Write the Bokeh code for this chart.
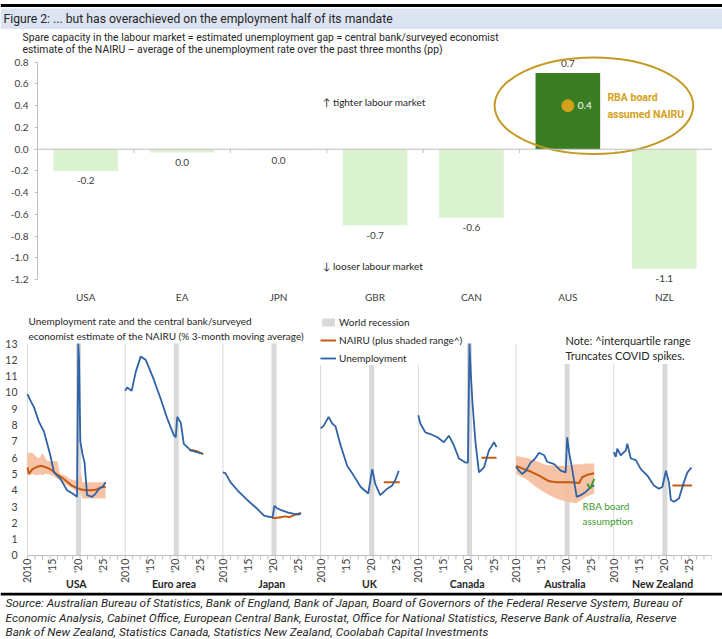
import math

from bokeh.core.properties import value
from bokeh.embed import file_html
from bokeh.layouts import column, row
from bokeh.models import (BoxAnnotation, FixedTicker, Label, Legend, LegendItem,
                          NumeralTickFormatter, Range1d, Span)
from bokeh.plotting import figure
from bokeh.resources import INLINE

NARROW = "Roboto"
BODY = "Lato"
W = 722

# ---- top chart: unemployment gap (pp) ----
gap_countries = ["USA", "EA", "JPN", "GBR", "CAN", "AUS", "NZL"]
gap_values = [-0.2, -0.03, -0.01, -0.7, -0.63, 0.7, -1.1]
rba_gap = 0.4  # AUS gap using the RBA board's assumed NAIRU

# ---- bottom chart: unemployment rate and NAIRU (%) ----
panel_names = ["USA", "Euro area", "Japan", "UK", "Canada", "Australia", "New Zealand"]
year_ticks = [2010, 2015, 2020, 2025]
year_labels = ["2010", "'15", "'20", "'25"]
recession = [2019.7, 2020.7]

usa_u_year = [2010.0, 2010.6, 2011.3, 2012.3, 2013.3, 2014.6, 2015.3, 2016.6, 2017.9, 2019.0,
              2019.9, 2020.15, 2020.3, 2020.55, 2021.0, 2021.4, 2021.9, 2022.9, 2023.6, 2024.3,
              2025.0, 2025.6]
usa_u = [9.9, 9.5, 9.1, 8.2, 7.6, 6.1, 5.1, 4.7, 4.0, 3.8, 3.6, 13.0, 12.0, 7.0, 6.2, 5.7, 3.7,
         3.6, 3.8, 4.1, 4.2, 4.5]
usa_n_year = [2010.0, 2010.3, 2011.0, 2012.0, 2012.8, 2013.8, 2014.8, 2015.8, 2016.8, 2017.8,
              2018.8, 2019.8, 2020.8, 2021.8, 2022.8, 2023.8, 2024.8, 2025.6]
usa_n = [5.4, 5.0, 5.3, 5.45, 5.5, 5.4, 5.25, 5.0, 4.8, 4.55, 4.3, 4.15, 4.05, 4.0, 4.0, 4.05,
         4.2, 4.2]
usa_band_year = [2010.0, 2011.0, 2012.0, 2012.5, 2013.0, 2013.5, 2014.0, 2015.0, 2016.0, 2016.5,
                 2017.5, 2018.5, 2019.5, 2020.2, 2020.6, 2021.0, 2022.0, 2023.0, 2024.0, 2025.6]
usa_hi = [6.3, 6.3, 6.0, 6.0, 6.3, 6.0, 5.8, 5.8, 5.8, 5.0, 4.9, 4.7, 4.6, 4.6, 5.2, 4.5, 4.5,
          4.5, 4.5, 4.5]
usa_lo = [4.9, 5.0, 4.9, 5.0, 4.9, 5.0, 5.0, 4.9, 4.7, 4.6, 4.4, 4.2, 4.0, 3.9, 3.9, 3.5, 3.5,
          3.5, 3.5, 3.5]

ea_u_year = [2010.0, 2010.4, 2011.3, 2012.1, 2013.1, 2014.1, 2014.7, 2015.7, 2017.1, 2018.4,
             2019.7, 2020.1, 2020.4, 2021.1, 2021.7, 2023.1, 2024.1, 2025.4]
ea_u = [10.1, 10.3, 10.1, 11.25, 12.2, 12.0, 11.55, 10.8, 9.6, 8.4, 7.4, 7.25, 8.5, 8.15, 6.85,
        6.45, 6.35, 6.25]
ea_n_year = [2022.8, 2023.5, 2024.3, 2025.0, 2025.6]
ea_n = [6.45, 6.45, 6.4, 6.3, 6.22]

jpn_u_year = [2010.0, 2010.5, 2011.5, 2012.9, 2014.9, 2016.9, 2018.2, 2019.5, 2019.9, 2020.3,
              2020.8, 2021.5, 2022.9, 2024.2, 2025.0, 2025.6]
jpn_u = [5.1, 5.05, 4.5, 4.0, 3.4, 2.85, 2.45, 2.35, 2.35, 3.05, 2.9, 2.8, 2.65, 2.55, 2.5, 2.6]
jpn_n_year = [2019.8, 2020.5, 2021.5, 2022.5, 2023.3, 2024.0, 2024.8, 2025.6]
jpn_n = [2.3, 2.3, 2.35, 2.4, 2.35, 2.45, 2.55, 2.6]

gbr_u_year = [2010.0, 2010.6, 2011.6, 2012.3, 2013.0, 2014.0, 2015.3, 2016.6, 2018.0, 2019.5,
              2020.3, 2020.9, 2021.9, 2022.6, 2023.3, 2024.3, 2025.0, 2025.6]
gbr_u = [7.8, 7.95, 8.5, 8.1, 7.9, 6.75, 5.5, 4.9, 4.2, 3.8, 5.3, 4.4, 3.7, 3.9, 4.1, 4.3, 4.7,
         5.2]
gbr_n_year = [2022.6, 2025.8]
gbr_n = [4.5, 4.5]

can_u_year = [2010.0, 2010.4, 2011.4, 2012.4, 2013.8, 2015.1, 2016.1, 2017.1, 2018.1, 2019.4,
              2019.9, 2020.2, 2020.5, 2020.8, 2021.4, 2022.1, 2023.1, 2024.1, 2025.1, 2025.6]
can_u = [8.6, 8.1, 7.55, 7.45, 7.25, 6.95, 7.35, 6.75, 5.95, 5.7, 5.7, 13.0, 11.0, 9.4, 6.95,
         5.1, 5.4, 6.45, 6.95, 6.65]
can_n_year = [2022.6, 2025.6]
can_n = [6.0, 6.0]

aus_u_year = [2010.0, 2010.6, 2011.2, 2012.0, 2012.9, 2013.7, 2014.6, 2015.6, 2016.2, 2017.6,
              2018.9, 2019.9, 2020.2, 2020.6, 2021.2, 2022.1, 2022.9, 2023.9, 2024.9, 2025.6]
aus_u = [5.45, 5.2, 5.0, 5.2, 5.7, 5.9, 6.3, 6.15, 5.75, 5.6, 5.2, 5.1, 7.25, 6.3, 5.3, 3.6,
         3.7, 3.9, 4.2, 4.3]
aus_n_year = [2010.0, 2011.6, 2012.9, 2014.6, 2016.6, 2018.2, 2020.9, 2022.6, 2023.2, 2024.2,
              2025.6]
aus_n = [5.5, 5.3, 5.15, 4.9, 4.55, 4.5, 4.5, 4.45, 4.8, 4.95, 5.05]
aus_band_year = [2010.0, 2012.0, 2014.0, 2016.0, 2018.0, 2020.0, 2022.0, 2023.0, 2024.0, 2025.6]
aus_hi = [6.1, 6.0, 5.8, 5.55, 5.5, 5.5, 5.6, 5.6, 5.65, 5.65]
aus_lo = [5.0, 4.7, 4.2, 3.8, 3.5, 3.3, 3.2, 3.4, 3.6, 3.8]
rba_year = [2024.2, 2024.8, 2025.6]
rba_nairu = [4.4, 4.1, 4.7]

nzl_u_year = [2010.0, 2010.4, 2010.7, 2011.4, 2012.4, 2012.7, 2013.4, 2014.4, 2015.4, 2016.7,
              2018.0, 2019.0, 2019.7, 2020.4, 2021.0, 2021.4, 2022.0, 2023.0, 2024.0, 2024.7,
              2025.5]
nzl_u = [6.35, 6.05, 6.55, 6.15, 6.45, 6.85, 5.95, 5.85, 5.3, 4.9, 4.3, 4.1, 4.2, 5.2, 4.5, 3.4,
         3.3, 3.5, 4.5, 5.1, 5.4]
nzl_n_year = [2021.7, 2025.6]
nzl_n = [4.3, 4.3]

LIGHT_GREEN = "#daf2d0"
DARK_GREEN = "#3b7d23"
GOLD = "#d4a11a"
ORANGE = "#c55a11"
BLUE = "#2f62a6"
GREY = "#d9d9d9"
TXT = "#404040"
DARK = "#262626"


def bare(height):
    f = figure(width=W, height=height, x_range=Range1d(0, W), y_range=Range1d(0, height),
               toolbar_location=None, output_backend="svg", x_axis_location=None,
               y_axis_location=None, min_border=0)
    f.grid.visible = False
    f.outline_line_color = None
    return f


# ---- header ----
hdr = bare(29)
hdr.add_layout(BoxAnnotation(bottom=0, top=21, fill_color="#dce3f1", fill_alpha=1, line_color=None))
hdr.add_layout(BoxAnnotation(bottom=22.5, top=25.5, fill_color="black", fill_alpha=1, line_color=None))
hdr.add_layout(Label(x=3, y=11, text="Figure 2: ... but has overachieved on the employment half of its mandate",
                     text_baseline="middle", text_font=NARROW, text_font_size="12.2px", text_color=DARK))

# ---- top chart subtitle strip ----
sub = bare(26)
sub.add_layout(Label(x=22, y=18, text_baseline="middle", text_font=NARROW, text_font_size="10.4px",
                     text_color=DARK,
                     text="Spare capacity in the labour market = estimated unemployment gap = central bank/surveyed economist"))
sub.add_layout(Label(x=22, y=6, text_baseline="middle", text_font=NARROW, text_font_size="10.4px",
                     text_color=DARK,
                     text="estimate of the NAIRU \u2013 average of the unemployment rate over the past three months (pp)"))

# ---- top chart ----
xs = list(range(len(gap_countries)))
top = figure(width=W, height=250, x_range=Range1d(-0.5, len(xs) - 0.5), y_range=Range1d(-1.235, 0.862),
             toolbar_location=None, output_backend="svg",
             min_border_left=37, min_border_right=10, min_border_top=0, min_border_bottom=13)
top.grid.visible = False
top.outline_line_color = None

colors = [DARK_GREEN if c == "AUS" else LIGHT_GREEN for c in gap_countries]
top.vbar(x=xs, top=gap_values, bottom=0, width=0.67, fill_color=colors, line_color=None)
top.add_layout(Span(location=0, dimension="width", line_color="#bfbfbf", line_width=1))
bounds = [i + 0.5 for i in xs[:-1]]
top.segment(x0=bounds, x1=bounds, y0=[0] * len(bounds), y1=[-0.035] * len(bounds), line_color="#bfbfbf")

labels = []
for v in gap_values:
    s = f"{v:.1f}"
    labels.append("0.0" if s == "-0.0" else s)
offs = [10 if v < 0 else -10 for v in gap_values]
top.text(x=xs, y=gap_values, text=labels, y_offset=offs, text_align="center", text_baseline="middle",
         text_font=value(BODY), text_font_size="10px", text_color=TXT)

aus = gap_countries.index("AUS")
top.ellipse(x=aus + 0.27, y=rba_gap, width=2.06, height=0.89, fill_color=None, line_color="#c39a22",
            line_width=2)
top.scatter(x=[aus], y=[rba_gap], size=12, color=GOLD)
top.text(x=[aus], y=[rba_gap], text=[f"{rba_gap:.1f}"], x_offset=10, text_align="left",
         text_baseline="middle", text_font=value(BODY), text_font_size="10px", text_color="white")
top.add_layout(Label(x=aus + 0.41, y=rba_gap, text="RBA board\nassumed NAIRU", text_baseline="middle",
                     text_font=NARROW, text_font_size="10.5px", text_font_style="bold",
                     text_color=GOLD, text_line_height=1.3))

top.add_layout(Label(x=2.46, y=0.43, text="\u2191 tighter labour market", text_baseline="middle",
                     text_font=BODY, text_font_size="10px", text_color=DARK))
top.add_layout(Label(x=2.46, y=-1.07, text="\u2193 looser labour market", text_baseline="middle",
                     text_font=BODY, text_font_size="10px", text_color=DARK))

top.yaxis.ticker = FixedTicker(ticks=[-1.2, -1.0, -0.8, -0.6, -0.4, -0.2, 0.0, 0.2, 0.4, 0.6, 0.8])
top.yaxis.formatter = NumeralTickFormatter(format="0.0")
top.yaxis.bounds = (-1.2, 0.8)
top.yaxis.axis_line_color = "#bfbfbf"
top.yaxis.major_tick_line_color = "#bfbfbf"
top.yaxis.major_tick_in = 0
top.yaxis.major_tick_out = 3
top.yaxis.minor_tick_line_color = None
top.yaxis.major_label_standoff = 6
top.xaxis.ticker = FixedTicker(ticks=xs)
top.xaxis.major_label_overrides = {i: c for i, c in zip(xs, gap_countries)}
top.xaxis.axis_line_color = None
top.xaxis.major_tick_line_color = None
top.xaxis.minor_tick_line_color = None
top.xaxis.major_label_standoff = 1
for ax in (top.xaxis, top.yaxis):
    ax.major_label_text_font = BODY
    ax.major_label_text_font_size = "10px"
    ax.major_label_text_color = TXT

# ---- bottom chart ----
PANEL = 234  # months per country panel
n = len(panel_names)
Y_TOP = 13
LEFT_PAD = 19  # months left of the first panel, so its rotated year label is not cut
bot = figure(width=W, height=287, x_range=Range1d(-LEFT_PAD, PANEL * n), y_range=Range1d(-2.27, 15.09),
             toolbar_location=None, output_backend="svg", x_axis_location=None,
             min_border_left=19, min_border_right=11, min_border_top=4, min_border_bottom=0)
bot.grid.visible = False
bot.outline_line_color = None


def mx(years, i):
    return [i * PANEL + (y - 2010) * 12 for y in years]


panels = [
    (usa_u_year, usa_u, usa_n_year, usa_n),
    (ea_u_year, ea_u, ea_n_year, ea_n),
    (jpn_u_year, jpn_u, jpn_n_year, jpn_n),
    (gbr_u_year, gbr_u, gbr_n_year, gbr_n),
    (can_u_year, can_u, can_n_year, can_n),
    (aus_u_year, aus_u, aus_n_year, aus_n),
    (nzl_u_year, nzl_u, nzl_n_year, nzl_n),
]
bands = [(0, usa_band_year, usa_lo, usa_hi), (5, aus_band_year, aus_lo, aus_hi)]

rec_l = [x for i in range(n) for x in mx(recession[:1], i)]
rec_r = [x for i in range(n) for x in mx(recession[1:], i)]
rec = bot.quad(left=rec_l, right=rec_r, bottom=0, top=Y_TOP, fill_color=GREY, line_color=None)
seps = [i * PANEL for i in range(n)]
bot.segment(x0=seps, x1=seps, y0=[0] * n, y1=[Y_TOP] * n, line_color=GREY, line_width=1)

for i, yrs, lo, hi in bands:
    bot.varea(x=mx(yrs, i), y1=lo, y2=hi, fill_color="#f6bd9c", fill_alpha=0.9)

nairu_r = []
unemp_r = []
for i, (uy, u, ny, nv) in enumerate(panels):
    nairu_r.append(bot.line(mx(ny, i), nv, line_color=ORANGE, line_width=2))
for i, (uy, u, ny, nv) in enumerate(panels):
    unemp_r.append(bot.line(mx(uy, i), [min(v, Y_TOP) for v in u], line_color=BLUE, line_width=1.8))
bot.line(mx(rba_year, 5), rba_nairu, line_color="#3c9a2c", line_width=1.8)

# x axis drawn at y = 0: line, ticks every 18 months, rotated year labels, country names
bot.segment(x0=[0], x1=[PANEL * n], y0=[0], y1=[0], line_color="#bfbfbf", line_width=1)
minor = list(range(0, PANEL * n + 1, 18))
bot.segment(x0=minor, x1=minor, y0=[0] * len(minor), y1=[-0.25] * len(minor), line_color="#bfbfbf")
major = [i * PANEL + (y - 2010) * 12 for i in range(n) for y in year_ticks]
bot.text(x=major, y=[-0.2] * len(major), text=[year_labels[k % len(year_labels)] for k in range(len(major))],
         angle=math.pi / 2, text_align="right", text_baseline="middle", text_font=value(BODY),
         text_font_size="10.5px", text_color=TXT)
centers = [i * PANEL + PANEL // 2 for i in range(n)]
bot.text(x=centers, y=[-1.72] * n, text=panel_names, text_align="center", text_baseline="middle",
         text_font=value(BODY), text_font_size="10.5px", text_font_style="bold", text_color=DARK)

legend = Legend(items=[LegendItem(label="World recession", renderers=[rec]),
                       LegendItem(label="NAIRU (plus shaded range^)", renderers=[nairu_r[0]]),
                       LegendItem(label="Unemployment", renderers=[unemp_r[0]])],
                location=(301, 227), background_fill_color="white", background_fill_alpha=1,
                border_line_color=None, label_text_font=BODY, label_text_font_size="10px",
                label_text_color=DARK, glyph_width=16, glyph_height=10, spacing=3, padding=2,
                margin=0, label_standoff=3, label_height=15)
bot.add_layout(legend)

bot.add_layout(Label(x=544, y=261, x_units="screen", y_units="screen", text_baseline="top",
                     text="Note:  ^interquartile range\nTruncates COVID spikes.", text_font=BODY,
                     text_font_size="11px", text_color=DARK, text_line_height=1.2,
                     background_fill_color="white", padding=2))
bot.add_layout(Label(x=9, y=278, x_units="screen", y_units="screen", text_baseline="top",
                     text="Unemployment rate and the central bank/surveyed\n"
                          "economist estimate of the NAIRU (% 3-month moving average)",
                     text_font=BODY, text_font_size="10px", text_color=DARK, text_line_height=1.25))
bot.add_layout(Label(x=563, y=93, x_units="screen", y_units="screen", text_baseline="top",
                     text="RBA board\nassumption", text_font=BODY, text_font_size="10px",
                     text_color="#3c9a2c", text_line_height=1.25))

bot.yaxis.ticker = FixedTicker(ticks=list(range(0, Y_TOP + 1)))
bot.yaxis.bounds = (0, Y_TOP)
bot.yaxis.axis_line_color = None
bot.yaxis.major_tick_line_color = None
bot.yaxis.major_tick_in = 0
bot.yaxis.major_tick_out = 0
bot.yaxis.minor_tick_line_color = None
bot.yaxis.major_label_standoff = 2
bot.yaxis.major_label_text_font = BODY
bot.yaxis.major_label_text_font_size = "10.5px"
bot.yaxis.major_label_text_color = TXT

# ---- footer ----
ftr = bare(47)
ftr.add_layout(BoxAnnotation(bottom=44, top=47, fill_color="black", fill_alpha=1, line_color=None))
ftr.add_layout(Label(x=5, y=43.5, text_baseline="top", text_font=NARROW, text_font_size="11.8px",
                     text_font_style="italic", text_color=DARK, text_line_height=1.04,
                     text="Source: Australian Bureau of Statistics, Bank of England, Bank of Japan, Board of Governors of the Federal Reserve System,  Bureau of\n"
                          "Economic Analysis, Cabinet Office, European Central Bank, Eurostat, Office for National Statistics, Reserve Bank of Australia, Reserve\n"
                          "Bank of New Zealand, Statistics Canada, Statistics New Zealand, Coolabah Capital Investments"))

page = column(row(hdr), row(sub), row(top), row(bot), row(ftr), spacing=0)
open("out.html", "w").write(file_html(page, INLINE))
